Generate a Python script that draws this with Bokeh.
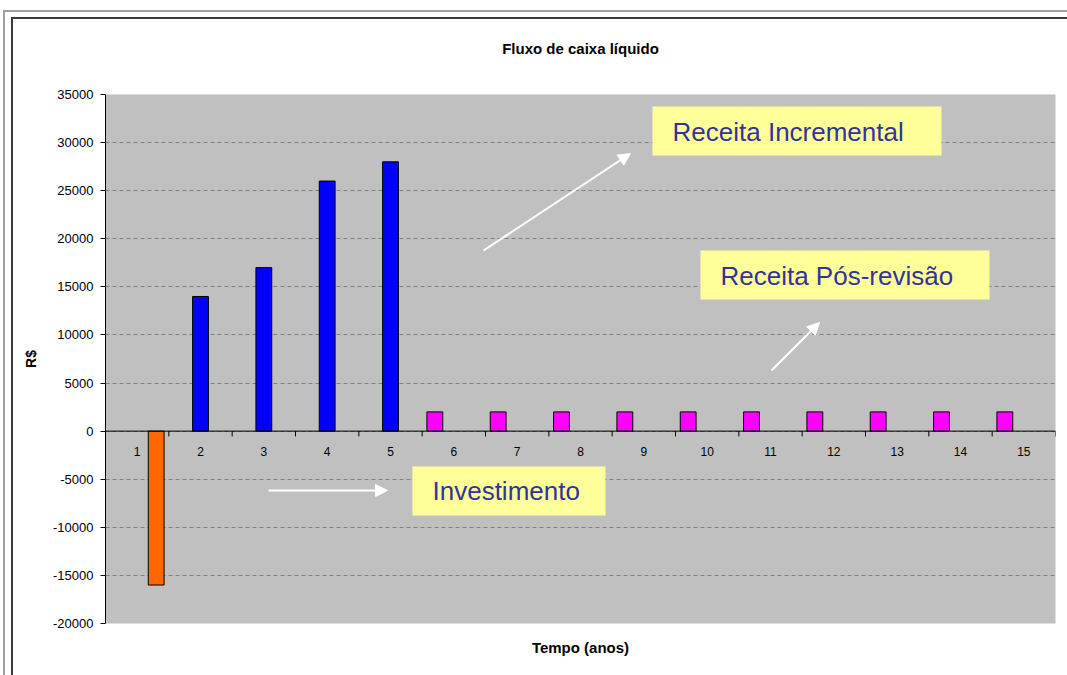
from bokeh.plotting import figure
from bokeh.models import Range1d, FixedTicker, Span, Title, Arrow, NormalHead
from bokeh.core.properties import value
from bokeh.embed import file_html
from bokeh.resources import INLINE

# ---- data ----
title_text = "Fluxo de caixa líquido"
x_title = "Tempo (anos)"
y_title = "R$"
periods = [1, 2, 3, 4, 5, 6, 7, 8, 9, 10, 11, 12, 13, 14, 15]
period_labels = [str(v) for v in periods]
inv_periods = [1]
inv_values = [-16000]
inc_periods = [2, 3, 4, 5]
inc_values = [14000, 17000, 26000, 28000]
pos_periods = [6, 7, 8, 9, 10, 11, 12, 13, 14, 15]
pos_values = [2000, 2000, 2000, 2000, 2000, 2000, 2000, 2000, 2000, 2000]
y_ticks = [-20000, -15000, -10000, -5000, 0, 5000, 10000, 15000, 20000, 25000, 30000, 35000]
notes = ["Receita Incremental", "Receita Pós-revisão", "Investimento"]

FONT = "Liberation Sans"

p = figure(width=1067, height=675, output_backend="svg", toolbar_location=None,
           x_range=Range1d(0.5, 15.5), y_range=Range1d(y_ticks[0], y_ticks[-1]),
           min_border_left=105, min_border_right=12, min_border_top=94, min_border_bottom=52,
           background_fill_color="#C0C0C0", border_fill_color=None,
           outline_line_color=None, title=None,
           styles={"background-color": "#ffffff",
                   "box-shadow": "inset 3px 10px 0 0 #ffffff, inset 5px 12px 0 0 #a0a0a0, "
                                 "inset 11px 17px 0 0 #ffffff, inset 13px 19px 0 0 #3c3c3c"})

# titles
p.add_layout(Title(text=title_text, align="center", offset=-35, standoff=75,
                   text_font=FONT, text_font_size="15px", text_font_style="bold",
                   text_color="black"), "above")
p.add_layout(Title(text=x_title, align="center", offset=-35, standoff=27,
                   text_font=FONT, text_font_size="15px", text_font_style="bold",
                   text_color="black"), "below")

# axes
p.xaxis.visible = False
p.xgrid.visible = False
yax = p.yaxis[0]
yax.ticker = FixedTicker(ticks=y_ticks)
yax.major_label_overrides = {t: str(t) for t in y_ticks}
yax.axis_line_color = "black"
yax.major_tick_line_color = "black"
yax.major_tick_in = 0
yax.major_tick_out = 5
yax.minor_tick_line_color = None
yax.major_label_standoff = 7
yax.major_label_text_font = FONT
yax.major_label_text_font_size = "13px"
yax.major_label_text_color = "black"
yax.axis_label = y_title
yax.axis_label_text_font = FONT
yax.axis_label_text_font_size = "14px"
yax.axis_label_text_font_style = "bold"
yax.axis_label_text_color = "black"
yax.axis_label_standoff = 11

p.ygrid.ticker = FixedTicker(ticks=y_ticks)
p.ygrid.grid_line_color = "#808080"
p.ygrid.grid_line_dash = "4 3"
p.ygrid.grid_line_width = 1

# bars
p.vbar(x=[c - 0.3 for c in pos_periods], top=pos_values, width=0.25,
       fill_color="#FF00FF", line_color="black", line_width=1)
p.vbar(x=inc_periods, top=inc_values, width=0.25,
       fill_color="#0000FF", line_color="black", line_width=1)
p.vbar(x=[c + 0.3 for c in inv_periods], top=inv_values, width=0.25,
       fill_color="#FF6600", line_color="black", line_width=1)

# category axis at zero
p.add_layout(Span(location=0, dimension="width", line_color="black", line_width=1))
bounds = [periods[0] - 0.5] + [c + 0.5 for c in periods]
p.segment(x0=bounds, y0=[0] * len(bounds), x1=bounds, y1=[-550] * len(bounds),
          line_color="black", line_width=1)
p.text(x=periods, y=[-2100] * len(periods), text=period_labels,
       text_align="center", text_baseline="middle",
       text_font=value(FONT), text_font_size="12px", text_color="black")

# annotation boxes
p.quad(left=[9.137, 9.895, 5.347], right=[13.70, 14.458, 8.395],
       top=[33752, 18781, -3677], bottom=[28658, 13686, -8771],
       fill_color="#FFFF99", line_color=None)
p.text(x=[9.453, 10.21, 5.663], y=[31050, 16180, -6250], text=notes,
       text_align="left", text_baseline="alphabetic",
       text_font=value(FONT), text_font_size="26px", text_color="#333399")

# arrows
for (xs, ys, xe, ye) in [(6.469, 18781, 8.789, 28866),
                         (11.016, 6304, 11.774, 11295),
                         (3.074, -6172, 4.953, -6172)]:
    p.add_layout(Arrow(x_start=xs, y_start=ys, x_end=xe, y_end=ye,
                       line_color="white", line_width=2,
                       end=NormalHead(size=12, fill_color="white", line_color="white")))

open("out.html", "w").write(file_html(p, INLINE))
